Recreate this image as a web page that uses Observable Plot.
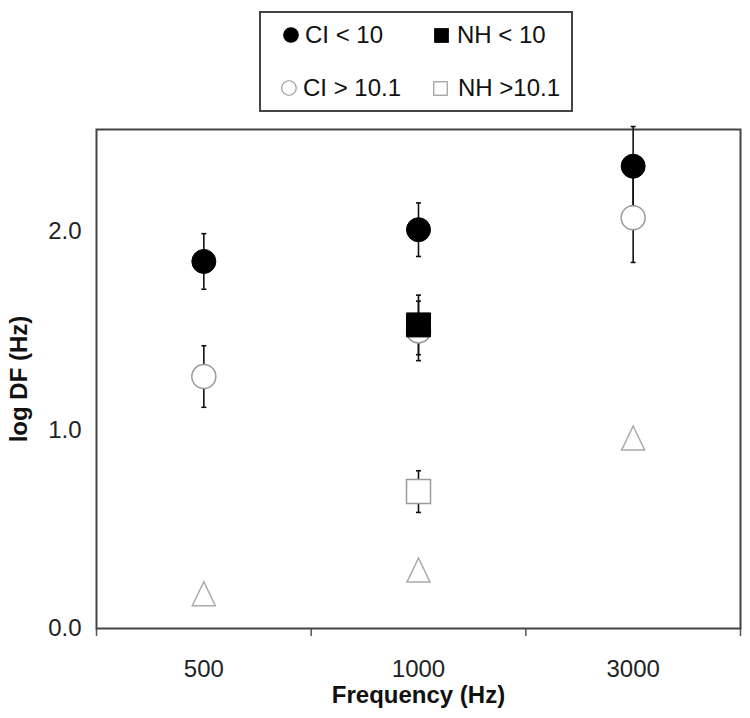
<!DOCTYPE html>
<html>
<head>
<meta charset="utf-8">
<script src="https://cdn.jsdelivr.net/npm/d3@7"></script>
<script src="https://cdn.jsdelivr.net/npm/@observablehq/plot@0.6"></script>
<style>
  body { margin: 0; background: white; font-family: "Liberation Sans", Arial, sans-serif; }
  #wrap { width: 750px; }
  #legend { position: relative; width: 750px; height: 120px; }
  #box { position: absolute; left: 259px; top: 11px; width: 314px; height: 101px; box-sizing: border-box; border: 2px solid #444; }
  .item { position: absolute; height: 24px; line-height: 24px; font-size: 24px; color: #111; white-space: nowrap; }
  .item svg { position: absolute; overflow: visible; }
  .item span { position: absolute; top: 0; }
  svg.plot { display: block; }
</style>
</head>
<body>
<div id="wrap">
  <div id="legend"><div id="box"></div></div>
  <div id="chart"></div>
</div>
<script>
// ---- data ----
const freqs = ["500", "1000", "3000"];
const seriesNames = ["CI < 10", "NH < 10", "CI > 10.1", "NH >10.1", "other"];
const ciLow      = [1.85, 2.01, 2.33];
const ciLowErr   = [0.14, 0.135, 0.20];
const nhLow      = [null, 1.53, null];
const nhLowErr   = [null, 0.15, null];
const ciHigh     = [1.27, 1.50, 2.07];
const ciHighErr  = [0.155, 0.15, 0.225];
const nhHigh     = [null, 0.69, null];
const nhHighErr  = [null, 0.105, null];
const triangle   = [0.175, 0.295, 0.96];
const yTicks = [0, 1, 2];
const xTitle = "Frequency (Hz)";
const yTitle = "log DF (Hz)";

// ---- tidy rows ----
function rows(name, vals, errs) {
  const out = [];
  vals.forEach((v, i) => {
    if (v == null) return;
    const e = errs ? errs[i] : null;
    out.push({series: name, x: i + 0.5, y: v, lo: e == null ? null : v - e, hi: e == null ? null : v + e});
  });
  return out;
}
const dCiLow = rows(seriesNames[0], ciLow, ciLowErr);
const dNhLow = rows(seriesNames[1], nhLow, nhLowErr);
const dCiHigh = rows(seriesNames[2], ciHigh, ciHighErr);
const dNhHigh = rows(seriesNames[3], nhHigh, nhHighErr);
const dTri = rows(seriesNames[4], triangle, null);
const errRows = [...dCiLow, ...dNhLow, ...dCiHigh, ...dNhHigh].filter(d => d.lo != null);
const capRows = errRows.flatMap(d => [{x: d.x, y: d.lo}, {x: d.x, y: d.hi}]);

// ---- custom symbols ----
const squareSym = (s) => ({draw(ctx) { const h = s / 2; ctx.moveTo(-h, -h); ctx.lineTo(h, -h); ctx.lineTo(h, h); ctx.lineTo(-h, h); ctx.closePath(); }});
const triSym = {draw(ctx) { ctx.moveTo(0, -12); ctx.lineTo(11.5, 12); ctx.lineTo(-11.5, 12); ctx.closePath(); }};
const capSym = {draw(ctx) { ctx.moveTo(-2.5, 0); ctx.lineTo(2.5, 0); }};

const gray = "#9a9a9a";

const chart = Plot.plot({
  width: 750,
  height: 598,
  marginTop: 9,
  marginBottom: 90,
  marginLeft: 96,
  marginRight: 10,
  x: {domain: [0, freqs.length], axis: null, label: null},
  y: {domain: [0, 2.515], axis: null, label: null},
  style: {fontFamily: "'Liberation Sans', Arial, sans-serif", fontSize: "24px", color: "#222", background: "white"},
  marks: [
    Plot.axisY({ticks: yTicks, tickFormat: d3.format(".1f"), tickSize: 0, tickPadding: 15, fontSize: 24, label: null}),
    Plot.axisX({ticks: d3.range(freqs.length + 1), tickFormat: () => "", tickSize: 8, stroke: "#555", strokeWidth: 1.5, label: null}),
    Plot.axisX({ticks: freqs.map((_, i) => i + 0.5), tickFormat: v => freqs[Math.floor(v)], tickSize: 0, tickPadding: 31, fontSize: 24, label: null}),
    Plot.frame({stroke: "#444", strokeWidth: 2}),
    Plot.ruleX(errRows, {x: "x", y1: "lo", y2: "hi", stroke: "#111", strokeWidth: 1.6}),
    Plot.dot(capRows, {x: "x", y: "y", symbol: capSym, stroke: "#111", strokeWidth: 1.6, fill: "none"}),
    Plot.dot(dTri, {x: "x", y: "y", symbol: triSym, stroke: "#aaa", strokeWidth: 1.5, fill: "white"}),
    Plot.dot(dNhHigh, {x: "x", y: "y", symbol: squareSym(24), stroke: gray, strokeWidth: 1.5, fill: "white"}),
    Plot.dot(dCiHigh, {x: "x", y: "y", r: 12, stroke: gray, strokeWidth: 1.5, fill: "white"}),
    Plot.dot(dCiLow, {x: "x", y: "y", r: 12, fill: "black", stroke: "black", strokeWidth: 1}),
    Plot.dot(dNhLow, {x: "x", y: "y", symbol: squareSym(24), fill: "black", stroke: "black", strokeWidth: 1}),
    Plot.text([xTitle], {frameAnchor: "bottom", dy: 57, lineAnchor: "top", textAnchor: "middle", fontWeight: "bold", fontSize: 24, fill: "#111"}),
    Plot.text([yTitle], {frameAnchor: "left", rotate: -90, dx: -77, lineAnchor: "middle", textAnchor: "middle", fontWeight: "bold", fontSize: 24, fill: "#111"})
  ]
});
document.getElementById("chart").appendChild(chart);

// ---- legend (HTML) ----
const legendItems = [
  {name: seriesNames[0], kind: "circle", fill: "black", stroke: "black", left: 24, top: 12, size: 16, textLeft: 46},
  {name: seriesNames[1], kind: "square", fill: "black", stroke: "black", left: 175, top: 12, size: 15, textLeft: 198},
  {name: seriesNames[2], kind: "circle", fill: "white", stroke: gray, left: 22, top: 65, size: 16, textLeft: 44},
  {name: seriesNames[3], kind: "square", fill: "white", stroke: gray, left: 174, top: 65, size: 15, textLeft: 199}
];
const box = document.getElementById("box");
for (const it of legendItems) {
  const div = document.createElement("div");
  div.className = "item";
  div.style.left = "0px";
  div.style.top = (it.top - 2) + "px";
  const s = it.size;
  const ns = "http://www.w3.org/2000/svg";
  const svg = document.createElementNS(ns, "svg");
  svg.setAttribute("width", s);
  svg.setAttribute("height", s);
  svg.style.left = (it.left - 2) + "px";
  svg.style.top = ((24 - s) / 2) + "px";
  let shape;
  if (it.kind === "circle") {
    shape = document.createElementNS(ns, "circle");
    shape.setAttribute("cx", s / 2); shape.setAttribute("cy", s / 2); shape.setAttribute("r", s / 2 - 0.75);
  } else {
    shape = document.createElementNS(ns, "rect");
    shape.setAttribute("x", 0.75); shape.setAttribute("y", 0.75); shape.setAttribute("width", s - 1.5); shape.setAttribute("height", s - 1.5);
  }
  shape.setAttribute("fill", it.fill);
  shape.setAttribute("stroke", it.stroke);
  shape.setAttribute("stroke-width", 1.2);
  svg.appendChild(shape);
  const span = document.createElement("span");
  span.textContent = it.name;
  span.style.left = (it.textLeft - 2) + "px";
  div.appendChild(svg);
  div.appendChild(span);
  box.appendChild(div);
}
</script>
</body>
</html>
